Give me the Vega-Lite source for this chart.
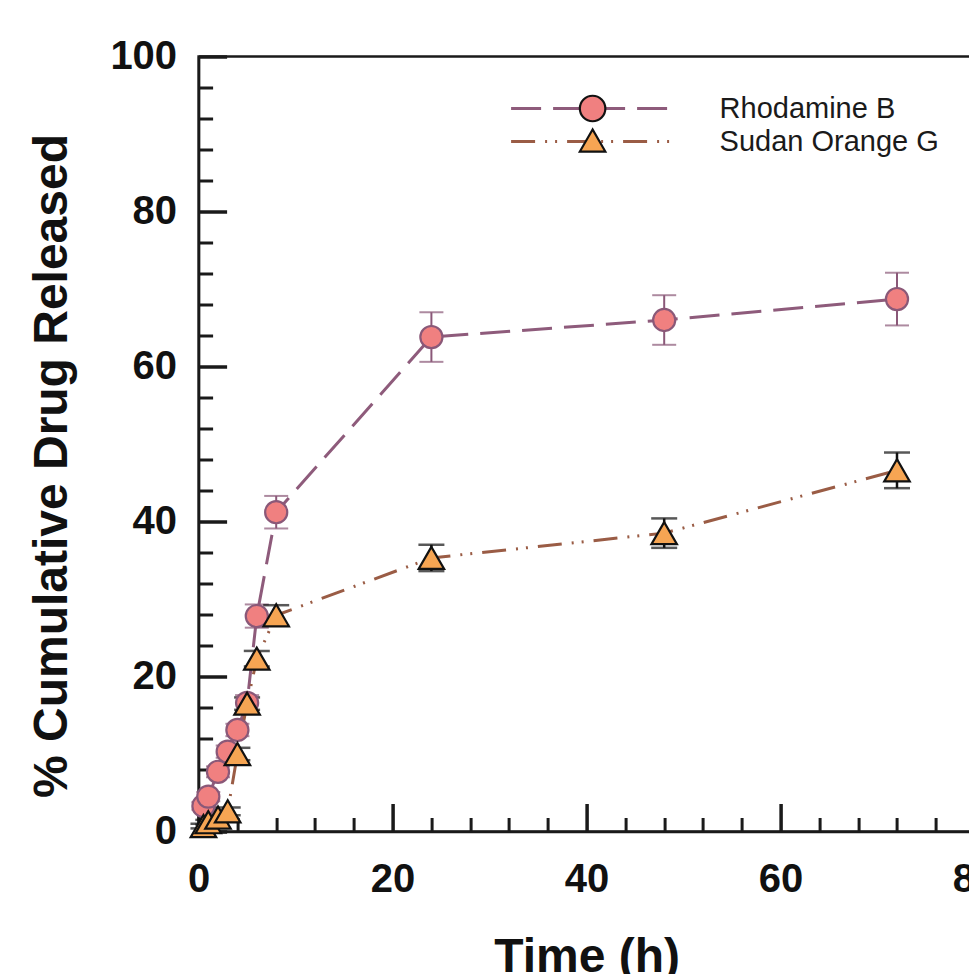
{
  "$schema": "https://vega.github.io/schema/vega-lite/v6.json",
  "autosize": "none",
  "padding": {"left": 198.6, "top": 56.5, "right": 0, "bottom": 142},
  "width": 776,
  "height": 775,
  "background": "white",
  "data": {
    "values": [
      {"series": "Rhodamine B", "time": 0.5, "release": 3.3, "err": 0.5},
      {"series": "Rhodamine B", "time": 1, "release": 4.5, "err": 0.6},
      {"series": "Rhodamine B", "time": 2, "release": 7.7, "err": 0.7},
      {"series": "Rhodamine B", "time": 3, "release": 10.3, "err": 0.8},
      {"series": "Rhodamine B", "time": 4, "release": 13.1, "err": 0.8},
      {"series": "Rhodamine B", "time": 5, "release": 16.6, "err": 1.0},
      {"series": "Rhodamine B", "time": 6, "release": 27.8, "err": 1.5},
      {"series": "Rhodamine B", "time": 8, "release": 41.2, "err": 2.1},
      {"series": "Rhodamine B", "time": 24, "release": 63.8, "err": 3.2},
      {"series": "Rhodamine B", "time": 48, "release": 66.0, "err": 3.2},
      {"series": "Rhodamine B", "time": 72, "release": 68.7, "err": 3.4},
      {"series": "Sudan Orange G", "time": 0.5, "release": 0.7, "err": 0.3},
      {"series": "Sudan Orange G", "time": 1, "release": 1.2, "err": 0.3},
      {"series": "Sudan Orange G", "time": 2, "release": 1.8, "err": 0.4},
      {"series": "Sudan Orange G", "time": 3, "release": 2.6, "err": 0.5},
      {"series": "Sudan Orange G", "time": 4, "release": 10.0, "err": 0.8},
      {"series": "Sudan Orange G", "time": 5, "release": 16.5, "err": 0.8},
      {"series": "Sudan Orange G", "time": 6, "release": 22.3, "err": 1.0},
      {"series": "Sudan Orange G", "time": 8, "release": 27.9, "err": 1.3},
      {"series": "Sudan Orange G", "time": 24, "release": 35.3, "err": 1.7},
      {"series": "Sudan Orange G", "time": 48, "release": 38.5, "err": 1.9},
      {"series": "Sudan Orange G", "time": 72, "release": 46.6, "err": 2.3}
    ]
  },
  "resolve": {"axis": {"x": "independent", "y": "independent"}},
  "layer": [
    {
      "mark": {"type": "line", "strokeWidth": 3, "clip": false},
      "encoding": {
        "x": {
          "field": "time", "type": "quantitative",
          "scale": {"domain": [0, 80], "nice": false, "zero": true},
          "axis": {
            "orient": "bottom",
            "title": null,
            "values": [4, 8, 12, 16, 24, 28, 32, 36, 44, 48, 52, 56, 64, 68, 72, 76],
            "labels": false,
            "tickSize": -14,
            "tickWidth": 3,
            "tickColor": "#1a1a1a",
            "domain": false,
            "grid": false
          }
        },
        "y": {
          "field": "release", "type": "quantitative",
          "scale": {"domain": [0, 100], "nice": false},
          "axis": {
            "orient": "left",
            "title": null,
            "values": [4, 8, 12, 16, 24, 28, 32, 36, 44, 48, 52, 56, 64, 68, 72, 76, 84, 88, 92, 96],
            "labels": false,
            "tickSize": -14,
            "tickWidth": 3,
            "tickColor": "#1a1a1a",
            "domain": false,
            "grid": false
          }
        },
        "stroke": {
          "field": "series", "type": "nominal",
          "scale": {"domain": ["Rhodamine B", "Sudan Orange G"], "range": ["#8E5B7B", "#9A5C45"]},
          "legend": {
            "orient": "none", "legendX": 375, "legendY": 34.5, "padding": 0,
            "title": null, "symbolType": "M-5,0H5", "symbolSize": 1024, "symbolStrokeWidth": 3,
            "labelFont": "Liberation Sans", "labelFontSize": 29, "labelColor": "#1a1a1a",
            "labelLimit": 600, "labelOffset": 111, "rowPadding": 0
          }
        },
        "strokeDash": {
          "field": "series", "type": "nominal",
          "scale": {"domain": ["Rhodamine B", "Sudan Orange G"], "range": [[30, 12], [24, 10, 2, 8, 2, 10]]},
          "legend": {
            "orient": "none", "legendX": 375, "legendY": 34.5, "padding": 0,
            "title": null, "symbolType": "M-5,0H5", "symbolSize": 1024, "symbolStrokeWidth": 3,
            "labelFont": "Liberation Sans", "labelFontSize": 29, "labelColor": "#1a1a1a",
            "labelLimit": 600, "labelOffset": 111, "rowPadding": 0
          }
        }
      }
    },
    {
      "transform": [{"filter": "datum.series === 'Rhodamine B'"}],
      "mark": {"type": "errorbar", "color": "#8A5878", "clip": false, "rule": {"strokeWidth": 2}, "ticks": {"size": 24, "thickness": 2, "color": "#8A5878"}},
      "encoding": {
        "x": {"field": "time", "type": "quantitative", "axis": null},
        "y": {"field": "release", "type": "quantitative", "axis": null},
        "yError": {"field": "err"}
      }
    },
    {
      "transform": [{"filter": "datum.series === 'Sudan Orange G'"}],
      "mark": {"type": "errorbar", "color": "#111111", "clip": false, "rule": {"strokeWidth": 2.5}, "ticks": {"size": 26, "thickness": 2.5, "color": "#111111"}},
      "encoding": {
        "x": {"field": "time", "type": "quantitative", "axis": null},
        "y": {"field": "release", "type": "quantitative", "axis": null},
        "yError": {"field": "err"}
      }
    },
    {
      "mark": {"type": "point", "filled": true, "opacity": 1, "strokeWidth": 2.2, "clip": false},
      "encoding": {
        "x": {
          "field": "time", "type": "quantitative",
          "axis": {
            "orient": "bottom",
            "title": "Time (h)",
            "values": [0, 20, 40, 60, 80],
            "tickSize": -28,
            "tickWidth": 3.5,
            "tickColor": "#1a1a1a",
            "domainColor": "#1a1a1a",
            "domainWidth": 2.5,
            "grid": false,
            "labelFont": "Liberation Sans",
            "labelFontSize": 40,
            "labelFontWeight": "bold",
            "labelColor": "#111111",
            "labelPadding": 56,
            "labelFlush": false,
            "labelOverlap": false,
            "labelBound": false,
            "titleFont": "Liberation Sans",
            "titleFontSize": 48,
            "titleFontWeight": "bold",
            "titleColor": "#111111",
            "titleBaseline": "alphabetic",
            "titleY": 140.5
          }
        },
        "y": {
          "field": "release", "type": "quantitative",
          "axis": {
            "orient": "left",
            "title": "% Cumulative Drug Released",
            "values": [0, 20, 40, 60, 80, 100],
            "tickSize": -28,
            "tickWidth": 3.5,
            "tickColor": "#1a1a1a",
            "domainColor": "#1a1a1a",
            "domainWidth": 2.5,
            "grid": false,
            "labelFont": "Liberation Sans",
            "labelFontSize": 40,
            "labelFontWeight": "bold",
            "labelColor": "#111111",
            "labelPadding": 50,
            "labelOverlap": false,
            "labelBound": false,
            "labelFlush": false,
            "titleFont": "Liberation Sans",
            "titleFontSize": 48,
            "titleFontWeight": "bold",
            "titleColor": "#111111",
            "titleBaseline": "alphabetic",
            "titleX": -131.6,
            "titleY": 409
          }
        },
        "fill": {
          "field": "series", "type": "nominal",
          "scale": {"range": ["#F08080", "#F6A553"]},
          "legend": {
            "orient": "none", "legendX": 380, "legendY": 38, "padding": 0,
            "title": null, "symbolSize": 650, "symbolStrokeWidth": 2.2,
            "labelFont": "Liberation Sans", "labelFontSize": 28, "labelExpr": "''",
            "rowPadding": -5,
            "encode": {"symbols": {"update": {
              "stroke": {"signal": "datum.value === 'Rhodamine B' ? '#8A5878' : '#111111'"},
              "size": {"signal": "datum.value === 'Rhodamine B' ? 490 : 650"}
            }}}
          }
        },
        "shape": {
          "field": "series", "type": "nominal",
          "scale": {"range": ["circle", "triangle-up"]},
          "legend": {
            "orient": "none", "legendX": 380, "legendY": 38, "padding": 0,
            "title": null, "symbolSize": 650, "symbolStrokeWidth": 2.2,
            "labelFont": "Liberation Sans", "labelFontSize": 28, "labelExpr": "''",
            "rowPadding": -5,
            "encode": {"symbols": {"update": {
              "stroke": {"signal": "datum.value === 'Rhodamine B' ? '#8A5878' : '#111111'"},
              "size": {"signal": "datum.value === 'Rhodamine B' ? 490 : 650"}
            }}}
          }
        },
        "size": {"condition": {"test": "datum.series === 'Rhodamine B'", "value": 490}, "value": 650},
        "stroke": {"condition": {"test": "datum.series === 'Rhodamine B'", "value": "#8A5878"}, "value": "#111111"}
      }
    }
  ],
  "config": {
    "view": {"stroke": "#1a1a1a", "strokeWidth": 2.5},
    "font": "Liberation Sans"
  }
}
